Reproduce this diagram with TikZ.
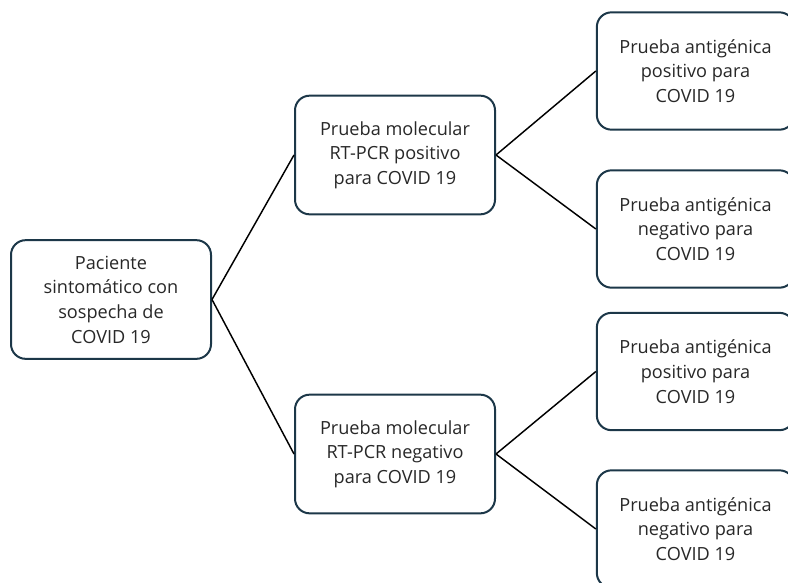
\documentclass[tikz,border=0pt]{standalone}
\usepackage{fontspec}
\setmainfont{Open Sans}
\definecolor{boxline}{RGB}{28,55,72}
\definecolor{boxtext}{RGB}{40,40,40}
\tikzset{
  caja/.style={draw=boxline, line width=1.5pt, rounded corners=11pt, fill=white,
    align=center, text=boxtext, font=\fontsize{13.6}{18.5}\selectfont,
    minimum width=150pt, minimum height=89pt, inner sep=2pt},
  cajader/.style={caja, minimum width=148pt, minimum height=88pt},
  rama/.style={line width=1.1pt, black}
}
\begin{document}
\begin{tikzpicture}[x=0.75pt,y=-0.75pt]

% Page frame
\useasboundingbox (0,0) rectangle (788,582);

% Root
\node[caja] (pac) at (111,299.5) {Paciente\\sintomático con\\sospecha de\\COVID 19};

% RT-PCR
\node[caja] (pcrpos) at (395,155) {Prueba molecular\\RT-PCR positivo\\para COVID 19};
\node[caja] (pcrneg) at (395,454) {Prueba molecular\\RT-PCR negativo\\para COVID 19};

% Antigen tests
\node[cajader] (agpos1) at (695.5,71) {Prueba antigénica\\positivo para\\COVID 19};
\node[cajader] (agneg1) at (695.5,229) {Prueba antigénica\\negativo para\\COVID 19};
\node[cajader] (agpos2) at (695.5,371.5) {Prueba antigénica\\positivo para\\COVID 19};
\node[cajader] (agneg2) at (695.5,529) {Prueba antigénica\\negativo para\\COVID 19};

% Branches
\draw[rama] (pac.east) -- (pcrpos.west);
\draw[rama] (pac.east) -- (pcrneg.west);
\draw[rama] (pcrpos.east) -- (agpos1.west);
\draw[rama] (pcrpos.east) -- (agneg1.west);
\draw[rama] (pcrneg.east) -- (agpos2.west);
\draw[rama] (pcrneg.east) -- (agneg2.west);

\end{tikzpicture}
\end{document}
